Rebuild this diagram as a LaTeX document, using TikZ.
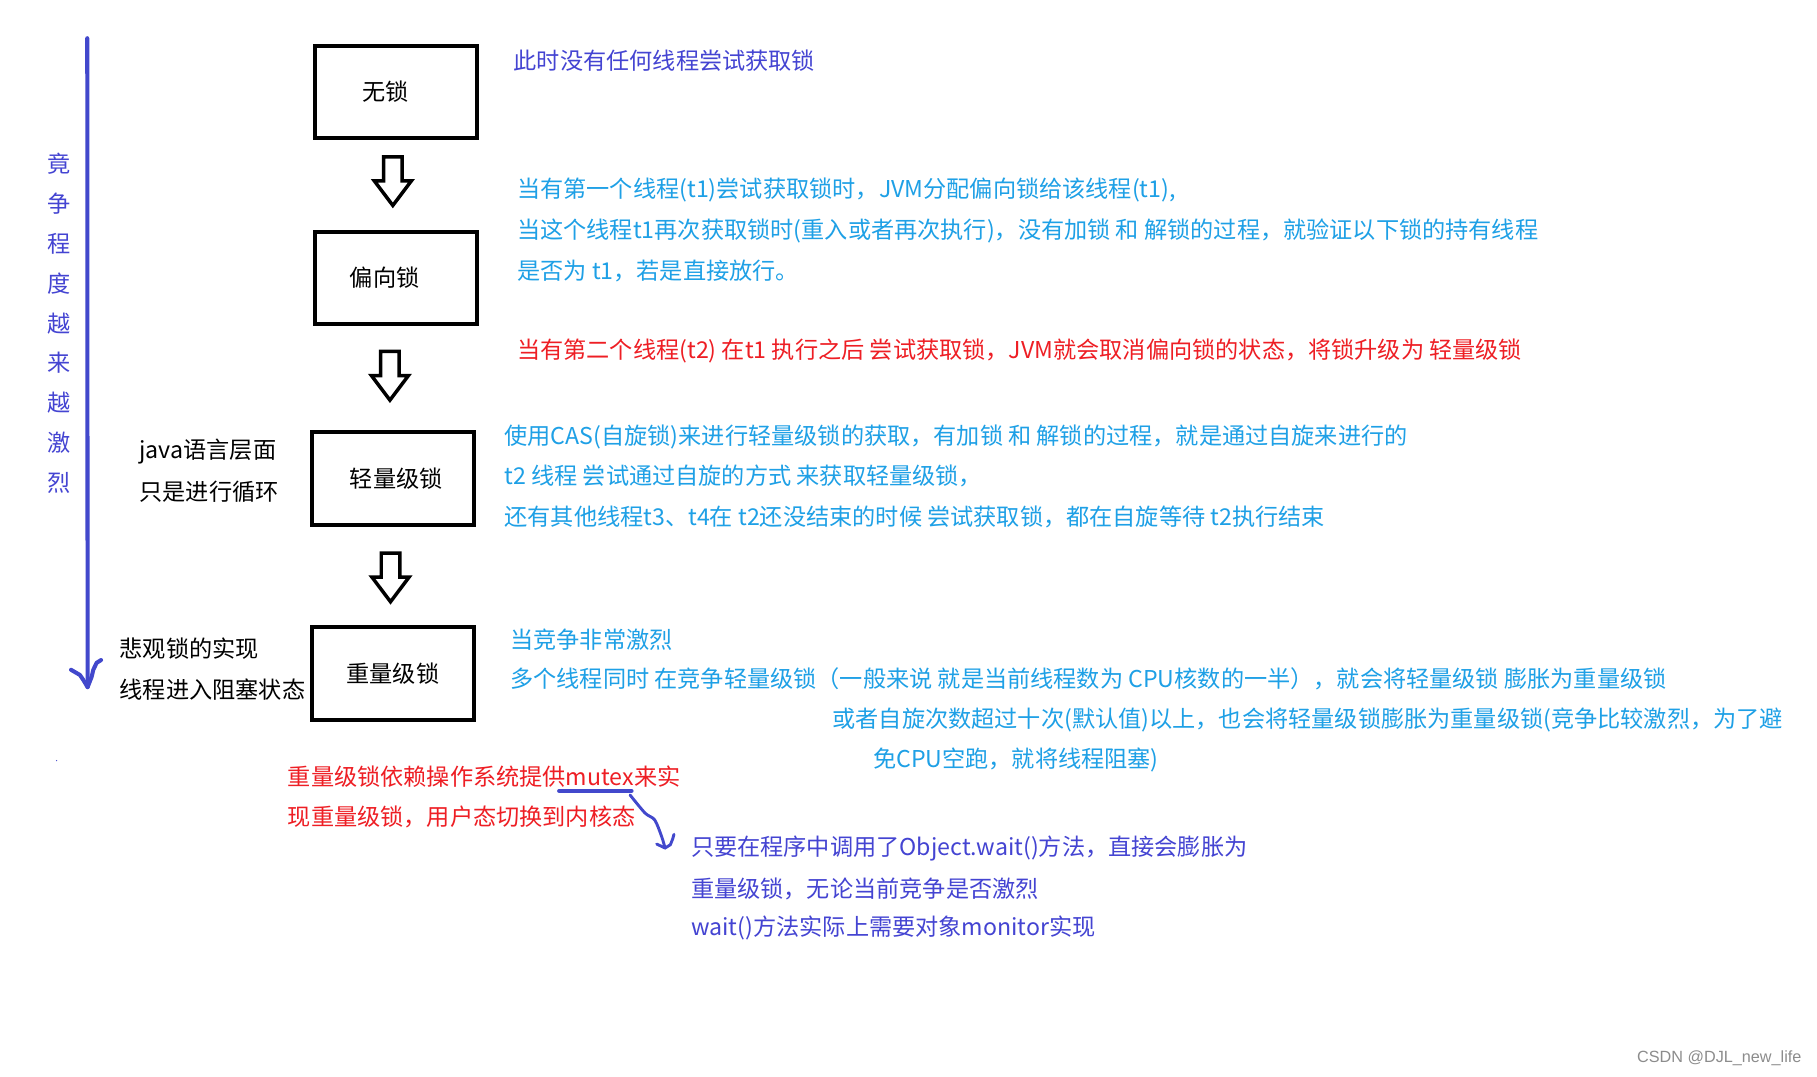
\documentclass[tikz,border=0pt]{standalone}
\usepackage{fontspec}
\setmainfont{Noto Sans CJK SC}
\newfontfamily\wmfont{Liberation Sans}
\usetikzlibrary{shapes.arrows}
\definecolor{cyanblue}{RGB}{30,160,230}
\definecolor{violetblue}{RGB}{68,68,210}
\definecolor{redtext}{RGB}{238,30,36}
\definecolor{penblue}{RGB}{66,72,204}
\tikzset{
  lockbox/.style={draw, line width=1.75pt, minimum width=70pt, minimum height=40pt, inner sep=0pt, font=\fontsize{10}{12}\selectfont},
  blockarrow/.style={single arrow, draw, line width=1.5pt, shape border rotate=270, inner sep=3.25pt, single arrow head extend=4pt, single arrow tip angle=74, minimum height=21pt},
  txt/.style={anchor=west, inner sep=0pt, font=\fontsize{10}{12}\selectfont},
  penline/.style={draw=penblue, line width=1.75pt, line cap=round, line join=round},
}
\begin{document}
\begin{tikzpicture}[x=0.5pt,y=-0.5pt]
\useasboundingbox (0,0) rectangle (1568,929);
\fill[white] (0,0) rectangle (1568,929);

% lock boxes
\node[lockbox] (nolock) at (341.5,79.5) {\hspace*{-8.5pt}无锁};
\node[lockbox] (biased) at (341.5,240) {\hspace*{-9.5pt}偏向锁};
\node[lockbox] (light) at (339,413) {\hspace*{3pt}轻量级锁};
\node[lockbox] (heavy) at (339,581) {重量级锁};

% block arrows between boxes
\node[blockarrow] (a1) at (339,151) {};
\node[blockarrow] (a2) at (336.5,319) {};
\node[blockarrow] (a3) at (337,493) {};

% vertical contention arrow
\coordinate (vtop) at (75.3,33);
\coordinate (vbot) at (75.6,593);
\draw[penline] (vtop) -- (vbot);
\draw[penline] (61.3,578) -- (69,582.5) -- (71.9,586.8) -- (vbot) -- (79.1,584) -- (80.5,578) -- (83.4,572) -- (87.2,569.6);
\node[inner sep=0pt, align=center, text=violetblue, font=\fontsize{10}{17.2}\selectfont] (vtext) at (51,279) {竟\\争\\程\\度\\越\\来\\越\\激\\烈};
\fill[penblue] (48.9,656.4) circle (0.6);

% left black notes
\node[txt] (j1) at (120,390) {java语言层面};
\node[txt] (j2) at (120,424) {只是进行循环};
\node[txt] (p1) at (103,560) {悲观锁的实现};
\node[txt] (p2) at (103,595) {线程进入阻塞状态};

% right notes
\node[txt, text=violetblue] (t0) at (443,52) {此时没有任何线程尝试获取锁};
\node[txt, text=cyanblue] (b1) at (446,164) {当有第一个线程(t1)尝试获取锁时，JVM分配偏向锁给该线程(t1),};
\node[txt, text=cyanblue] (b2) at (446,199) {当这个线程t1再次获取锁时(重入或者再次执行)，没有加锁 和 解锁的过程，就验证以下锁的持有线程};
\node[txt, text=cyanblue] (b3) at (446,234) {是否为 t1，若是直接放行。};
\node[txt, text=redtext] (r1) at (446,303) {当有第二个线程(t2) 在t1 执行之后 尝试获取锁，JVM就会取消偏向锁的状态，将锁升级为 轻量级锁};
\node[txt, text=cyanblue] (l1) at (435,377) {使用CAS(自旋锁)来进行轻量级锁的获取，有加锁 和 解锁的过程，就是通过自旋来进行的};
\node[txt, text=cyanblue] (l2) at (435,411) {t2 线程 尝试通过自旋的方式 来获取轻量级锁，};
\node[txt, text=cyanblue] (l3) at (435,446) {还有其他线程t3、t4在 t2还没结束的时候 尝试获取锁，都在自旋等待 t2执行结束};
\node[txt, text=cyanblue] (h1) at (440,552) {当竞争非常激烈};
\node[txt, text=cyanblue] (h2) at (440,586) {多个线程同时 在竞争轻量级锁（一般来说 就是当前线程数为 CPU核数的一半），就会将轻量级锁 膨胀为重量级锁};
\node[txt, text=cyanblue] (h3) at (718,621) {或者自旋次数超过十次(默认值)以上，也会将轻量级锁膨胀为重量级锁(竞争比较激烈，为了避};
\node[txt, text=cyanblue] (h4) at (753,656) {免CPU空跑，就将线程阻塞)};

% heavyweight lock notes
\node[txt, text=redtext] (m1) at (248,670) {重量级锁依赖操作系统提供mutex来实};
\node[txt, text=redtext] (m2) at (248,705) {现重量级锁，用户态切换到内核态};
\node[txt, text=violetblue] (w1) at (596,732) {只要在程序中调用了Object.wait()方法，直接会膨胀为};
\node[txt, text=violetblue] (w2) at (596,767) {重量级锁，无论当前竞争是否激烈};
\node[txt, text=violetblue] (w3) at (596,801) {wait()方法实际上需要对象monitor实现};

% underline and hand-drawn arrow
\coordinate (ulA) at (482.5,682.5);
\coordinate (ulB) at (545,682.5);
\coordinate (wtip) at (573.9,731.8);
\draw[penline] (ulA) -- (ulB);
\draw[penline, line width=1.25pt] plot[smooth] coordinates {(543.7,686) (556.6,701.6) (565,707.6) (571,722) (wtip)};
\draw[penline, line width=1.25pt] (566.7,728.4) -- (wtip) -- (578.5,729) -- (580.5,724) -- (581.6,720);

% watermark
\node[anchor=east, inner sep=0pt, text=black!45, font=\wmfont\fontsize{7}{8}\selectfont] (wm) at (1555,913) {CSDN @DJL\_new\_life};
\end{tikzpicture}
\end{document}
